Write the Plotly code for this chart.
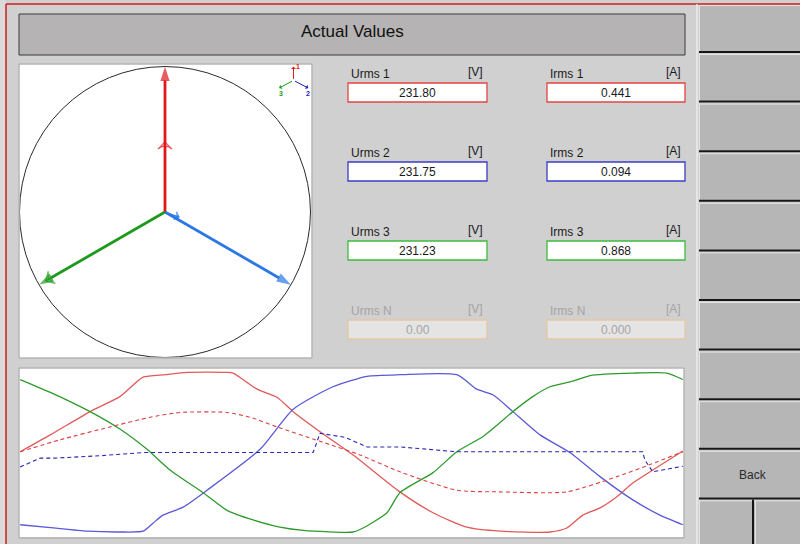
import math
import plotly.graph_objects as go

W, H = 800, 544
FONT = "Liberation Sans"

# ---------------------------------------------------------------- data
# One 20 ms cycle of the three phase voltages (solid) and currents (dashed),
# normalised to the voltage peak.
t_u1 = [0, 0.91, 2.11, 3.02, 3.71, 4.37, 5.04, 6.24, 6.43, 7.15, 7.75, 8.24, 9.05,
        10.05, 11.46, 12.46, 13.48, 14.48, 15.99, 16.50, 16.98, 17.50, 18.01, 18.49, 19.01, 20.0]
u1 = [0.0, 0.21, 0.50, 0.69, 0.93, 0.96, 0.99, 0.99, 0.98, 0.78, 0.68, 0.50, 0.25,
      -0.04, -0.50, -0.76, -0.94, -0.99, -1.00, -0.95, -0.79, -0.70, -0.56, -0.39, -0.25, 0.01]

t_u2 = [0, 1.00, 2.02, 3.02, 3.71, 4.01, 4.31, 4.92, 5.64, 7.24, 8.24, 9.44, 10.47,
        11.46, 13.18, 13.78, 14.27, 14.87, 15.69, 16.59, 17.50, 18.49, 19.31, 20.0]
u2 = [-0.91, -0.95, -0.99, -1.00, -0.99, -0.89, -0.79, -0.69, -0.48, 0.03, 0.53, 0.81, 0.94,
      0.96, 0.96, 0.78, 0.71, 0.50, 0.21, -0.01, -0.31, -0.60, -0.79, -0.91]

t_u3 = [0, 0.91, 2.11, 3.02, 3.83, 4.53, 5.52, 6.24, 7.03, 7.84, 8.54, 10.05, 10.35,
        11.07, 11.46, 12.46, 13.18, 13.97, 14.87, 15.48, 15.99, 16.68, 17.20, 18.49, 19.52, 20.0]
u3 = [0.90, 0.74, 0.50, 0.28, 0.03, -0.23, -0.51, -0.73, -0.85, -0.94, -0.98, -1.00, -0.95,
      -0.76, -0.51, -0.26, 0.00, 0.19, 0.50, 0.69, 0.81, 0.88, 0.95, 0.98, 0.98, 0.90]

t_i1 = [0, 1.21, 2.72, 3.92, 4.83, 6.24, 6.94, 7.75, 9.05, 10.26, 11.46, 13.18, 14.48,
        16.50, 18.01, 19.01, 20.0]
i1 = [0.0, 0.15, 0.31, 0.43, 0.49, 0.49, 0.43, 0.31, 0.13, -0.04, -0.25, -0.48, -0.50,
      -0.50, -0.31, -0.16, 0.0]

t_i2 = [0, 0.30, 0.60, 1.00, 2.41, 3.71, 6.94, 8.84, 8.93, 9.05, 9.80, 10.47, 11.46,
        13.18, 18.79, 18.85, 19.09, 20.0]
i2 = [-0.19, -0.13, -0.08, -0.08, -0.05, -0.01, -0.01, -0.01, 0.09, 0.23, 0.18, 0.06, 0.06,
      0.0, 0.0, -0.10, -0.25, -0.18]

# Measured RMS values
phases = ["1", "2", "3", "N"]
urms = [231.80, 231.75, 231.23, 0.00]
irms = [0.441, 0.094, 0.868, 0.000]

# Phasor angles in degrees
u_angle = [90, -30, 210]
i_angle = [90, -20, 210]
U_FULL = 232.0     # voltage at full circle radius
I_FULL = 0.917     # current at full circle radius

phase_colors = ["#e04646", "#3c3cc8", "#3cbc3c"]
wave_colors = ["#e05a5a", "#5a5ad6", "#2e9a2e"]
dash_colors = ["#dc4040", "#2626b4"]
vec_colors = ["#e01818", "#2a78e6", "#1e9a1e"]
n_border = "#e6c6a2"

# ---------------------------------------------------------------- helpers
def px(x):
    return x / W


def py(y):
    return 1 - y / H


shapes = []
annotations = []


def rect(x0, y0, x1, y1, fill=None, line=None, lw=1, layer="above"):
    shapes.append(dict(type="rect", xref="paper", yref="paper",
                       x0=px(x0), x1=px(x1), y0=py(y1), y1=py(y0),
                       fillcolor=fill if fill else "rgba(0,0,0,0)",
                       line=dict(color=line if line else "rgba(0,0,0,0)", width=lw if line else 0),
                       layer=layer))


def hline(x0, x1, y, color, lw=1):
    shapes.append(dict(type="line", xref="paper", yref="paper",
                       x0=px(x0), x1=px(x1), y0=py(y), y1=py(y),
                       line=dict(color=color, width=lw)))


def vline(x, y0, y1, color, lw=1):
    shapes.append(dict(type="line", xref="paper", yref="paper",
                       x0=px(x), x1=px(x), y0=py(y0), y1=py(y1),
                       line=dict(color=color, width=lw)))


def text(x, y, s, size=12, color="#1a1a1a", xanchor="center"):
    annotations.append(dict(x=px(x), y=py(y), xref="paper", yref="paper", text=s,
                            showarrow=False, xanchor=xanchor, yanchor="middle",
                            font=dict(family=FONT, size=size, color=color)))


fig = go.Figure()

# ---------------------------------------------------------------- waveforms
for t, v, c in [(t_u1, u1, wave_colors[0]), (t_u2, u2, wave_colors[1]), (t_u3, u3, wave_colors[2])]:
    fig.add_trace(go.Scatter(x=t, y=v, mode="lines", xaxis="x", yaxis="y",
                             line=dict(color=c, width=1.3, shape="spline", smoothing=0.6),
                             hoverinfo="skip", showlegend=False))
fig.add_trace(go.Scatter(x=t_i1, y=i1, mode="lines", xaxis="x", yaxis="y",
                         line=dict(color=dash_colors[0], width=1.1, dash="4px,3px",
                                   shape="spline", smoothing=0.6),
                         hoverinfo="skip", showlegend=False))
fig.add_trace(go.Scatter(x=t_i2, y=i2, mode="lines", xaxis="x", yaxis="y",
                         line=dict(color=dash_colors[1], width=1.1, dash="4px,3px"),
                         hoverinfo="skip", showlegend=False))

# ---------------------------------------------------------------- phasors
shapes.append(dict(type="circle", xref="x2", yref="y2", x0=-1, y0=-1, x1=1, y1=1,
                   line=dict(color="#2a2a2a", width=1), layer="below"))

for k in range(3):
    r = urms[k] / U_FULL
    a = math.radians(u_angle[k])
    fig.add_trace(go.Scatter(
        x=[0, r * math.cos(a)], y=[0, r * math.sin(a)], mode="lines+markers",
        xaxis="x2", yaxis="y2",
        line=dict(color=vec_colors[k], width=2.8),
        marker=dict(symbol="arrow", size=[0, 15], angleref="previous",
                    color=vec_colors[k], line=dict(width=0)),
        hoverinfo="skip", showlegend=False))

for k in range(3):
    r = irms[k] / I_FULL
    a = math.radians(i_angle[k])
    fig.add_trace(go.Scatter(
        x=[0, r * math.cos(a)], y=[0, r * math.sin(a)], mode="lines+markers",
        xaxis="x2", yaxis="y2",
        line=dict(color=vec_colors[k], width=1.2),
        marker=dict(symbol="arrow-wide-open", size=[0, 10 if r > 0.3 else 6], angleref="previous",
                    color=vec_colors[k], line=dict(width=1.3, color=vec_colors[k])),
        hoverinfo="skip", showlegend=False))

# small orientation key in the corner of the phasor panel
key_origin = (0.883, 0.905)
key_tips = [(0.883, 1.0), (0.985, 0.852), (0.785, 0.852)]
key_text = [(0.915, 1.0), (0.985, 0.818), (0.80, 0.818)]
key_colors = ["#e01818", "#1c1cc0", "#1e9a1e"]
for k in range(3):
    annotations.append(dict(x=key_tips[k][0], y=key_tips[k][1], ax=key_origin[0], ay=key_origin[1],
                            xref="x2", yref="y2", axref="x2", ayref="y2", text="",
                            showarrow=True, arrowhead=1, arrowsize=0.8, arrowwidth=1,
                            arrowcolor=key_colors[k]))
    annotations.append(dict(x=key_text[k][0], y=key_text[k][1], xref="x2", yref="y2",
                            text="<b>%s</b>" % phases[k], showarrow=False,
                            font=dict(family=FONT, size=7, color=key_colors[k])))

# ---------------------------------------------------------------- frame / chrome
rect(0, 0, 6, H, fill="#dadada", layer="below")
hline(6, W, 4, "#d01c1c", 1.5)
vline(6, 4, H, "#d01c1c", 1.5)

# title bar
rect(19, 14, 685, 55, fill="#b5b3b3", line="#3a3a3a", lw=1)
text(352, 31, "Actual Values", size=17, color="#101010")

# panel outlines
rect(19, 64, 312, 358, line="#a8a8a8", lw=1)
rect(19, 368, 684, 538, line="#a8a8a8", lw=1)

# value fields
col_x = [348, 547]
col_w = [139, 138]
row_top = [83, 162, 241, 320]
for r in range(4):
    for c in range(2):
        quantity = "Urms" if c == 0 else "Irms"
        unit = "[V]" if c == 0 else "[A]"
        val = "%.2f" % urms[r] if c == 0 else "%.3f" % irms[r]
        x0 = col_x[c]
        x1 = x0 + col_w[c]
        y0 = row_top[r]
        active = r < 3
        border = phase_colors[r] if active else n_border
        fill = "#ffffff" if active else "#e4e4e4"
        tcol = "#1a1a1a" if active else "#a4a4a4"
        rect(x0, y0, x1, y0 + 19, fill=fill, line=border, lw=1.3)
        text(x0 + 1, y0 - 9, "%s %s" % (quantity, phases[r]), size=12, color=tcol, xanchor="left")
        text(x1 - 2, y0 - 11, unit, size=12, color=tcol, xanchor="right")
        text((x0 + x1) / 2, y0 + 10, val, size=12, color=tcol)

# button column
vline(697, 4, H, "#ececec", 1.5)
btn_lines = [51 + 49.6 * k for k in range(10)]
prev = 5
for k, yl in enumerate(btn_lines):
    rect(699, prev, W, yl, fill="#b6b6b6", layer="below")
    hline(699, W, prev + 0.5, "#e4e4e4", 1)
    vline(699.5, prev, yl, "#e4e4e4", 1)
    hline(699, W, yl + 1, "#161616", 2)
    prev = yl + 3
rect(699, prev, W, H, fill="#b6b6b6", layer="below")
hline(699, W, prev + 0.5, "#e4e4e4", 1)
vline(699.5, prev, H, "#e4e4e4", 1)
vline(753, prev - 1, H, "#161616", 2)
vline(755.5, prev, H, "#e4e4e4", 1)
text(753, (btn_lines[8] + btn_lines[9]) / 2 + 2, "Back", size=12, color="#2a2a2a")

# ---------------------------------------------------------------- layout
axis_off = dict(showgrid=False, zeroline=False, showticklabels=False, ticks="",
                showline=False, fixedrange=True)
fig.update_layout(
    width=W, height=H,
    margin=dict(l=0, r=0, t=0, b=0),
    paper_bgcolor="#d0d0d0",
    plot_bgcolor="#ffffff",
    showlegend=False,
    xaxis=dict(domain=[px(19.5), px(683.5)], range=[-0.02, 20.02], **axis_off),
    yaxis=dict(domain=[py(537), py(368.5)], range=[-1.0625, 1.0375], **axis_off),
    xaxis2=dict(domain=[px(19.5), px(311.5)], range=[-1.0, 1.007], **axis_off),
    yaxis2=dict(domain=[py(357.5), py(64.5)], range=[-1.0, 1.014], **axis_off),
    shapes=shapes,
    annotations=annotations,
)

fig.write_html("out.html")
